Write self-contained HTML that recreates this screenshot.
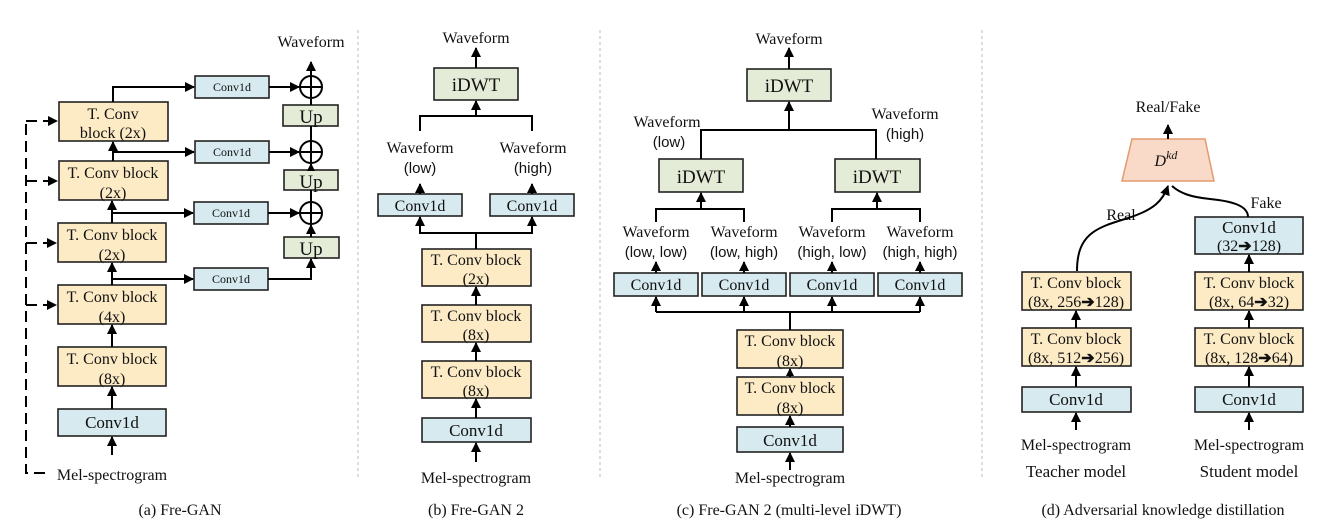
<!DOCTYPE html>
<html><head><meta charset="utf-8"><style>
html,body{margin:0;padding:0;background:#fff;}
svg{display:block;}
text{font-family:"Liberation Serif",serif;fill:#111;}
.s{font-family:"Liberation Sans",sans-serif;}
.y{fill:#fdebc6;stroke:#222;stroke-width:1.6;}
.b{fill:#d6eaf0;stroke:#222;stroke-width:1.6;}
.g{fill:#e4ebd6;stroke:#222;stroke-width:1.6;}
.l{stroke:#000;stroke-width:2;fill:none;}
.d{stroke:#000;stroke-width:2;fill:none;stroke-dasharray:11,6;}
.sep{stroke:#bbb;stroke-width:1;stroke-dasharray:3,3;}
</style></head><body>
<svg width="1327" height="532" viewBox="0 0 1327 532" xmlns="http://www.w3.org/2000/svg">
<defs><marker id="a" markerWidth="8" markerHeight="8" refX="7" refY="4" orient="auto" markerUnits="userSpaceOnUse" viewBox="0 0 8 8"><path d="M0,0 L8,4 L0,8 z" fill="#000"/></marker>
<marker id="A" markerWidth="10" markerHeight="10" refX="9" refY="5" orient="auto" markerUnits="userSpaceOnUse" viewBox="0 0 10 10"><path d="M0,0 L10,5 L0,10 z" fill="#000"/></marker></defs>

<line class="sep" x1="358" y1="30" x2="358" y2="480"/>
<line class="sep" x1="600" y1="30" x2="600" y2="480"/>
<line class="sep" x1="982" y1="30" x2="982" y2="480"/>

<!-- Panel a -->
<g font-size="16">
<text x="311" y="47" text-anchor="middle">Waveform</text>
<rect class="y" x="59" y="102" width="109" height="39"/><text x="113" y="119" text-anchor="middle">T. Conv</text><text x="113" y="138" text-anchor="middle">block (2x)</text>
<rect class="y" x="59" y="161" width="109" height="39"/><text x="113" y="178" text-anchor="middle">T. Conv block</text><text x="113" y="198" text-anchor="middle">(2x)</text>
<rect class="y" x="58" y="223" width="108" height="39"/><text x="112" y="240" text-anchor="middle">T. Conv block</text><text x="112" y="260" text-anchor="middle">(2x)</text>
<rect class="y" x="58" y="285" width="108" height="39"/><text x="112" y="302" text-anchor="middle">T. Conv block</text><text x="112" y="322" text-anchor="middle">(4x)</text>
<rect class="y" x="58" y="347" width="108" height="39"/><text x="112" y="364" text-anchor="middle">T. Conv block</text><text x="112" y="384" text-anchor="middle">(8x)</text>
<rect class="b" x="58" y="409" width="108" height="27"/><text x="112" y="428" text-anchor="middle" font-size="17">Conv1d</text>
<text x="112" y="480" text-anchor="middle">Mel-spectrogram</text>
</g>
<g font-size="12">
<rect class="b" x="195" y="76" width="74" height="22"/><text x="232" y="91" text-anchor="middle">Conv1d</text>
<rect class="b" x="195" y="141" width="74" height="22"/><text x="232" y="156" text-anchor="middle">Conv1d</text>
<rect class="b" x="194" y="202" width="74" height="22"/><text x="231" y="217" text-anchor="middle">Conv1d</text>
<rect class="b" x="194" y="268" width="74" height="22"/><text x="231" y="283" text-anchor="middle">Conv1d</text>
</g>
<g font-size="19">
<rect class="g" x="283" y="105" width="55" height="21"/><text x="311" y="123" text-anchor="middle">Up</text>
<rect class="g" x="284" y="170" width="54" height="20"/><text x="311" y="188" text-anchor="middle">Up</text>
<rect class="g" x="284" y="237" width="55" height="21"/><text x="311" y="255" text-anchor="middle">Up</text>
</g>
<g class="l">
<circle cx="311" cy="87" r="11"/><line x1="300" y1="87" x2="322" y2="87"/><line x1="311" y1="76" x2="311" y2="98"/>
<circle cx="311" cy="152" r="11"/><line x1="300" y1="152" x2="322" y2="152"/><line x1="311" y1="141" x2="311" y2="163"/>
<circle cx="311" cy="213" r="11"/><line x1="300" y1="213" x2="322" y2="213"/><line x1="311" y1="202" x2="311" y2="224"/>
</g>
<g class="l">
<line x1="311" y1="76" x2="311" y2="62" marker-end="url(#A)"/>
<polyline points="113,102 113,87 194,87" marker-end="url(#A)"/>
<line x1="113" y1="152" x2="194" y2="152" marker-end="url(#A)"/>
<line x1="112" y1="213" x2="193" y2="213" marker-end="url(#A)"/>
<line x1="112" y1="279" x2="193" y2="279" marker-end="url(#A)"/>
<line x1="269" y1="87" x2="299" y2="87" marker-end="url(#A)"/>
<line x1="269" y1="152" x2="299" y2="152" marker-end="url(#A)"/>
<line x1="268" y1="213" x2="299" y2="213" marker-end="url(#A)"/>
<polyline points="268,279 311,279 311,259" marker-end="url(#A)"/>
<line x1="311" y1="105" x2="311" y2="99" />
<line x1="311" y1="170" x2="311" y2="164" marker-end="url(#a)"/>
<line x1="311" y1="237" x2="311" y2="225" marker-end="url(#A)"/>
<line x1="311" y1="126" x2="311" y2="141"/>
<line x1="311" y1="190" x2="311" y2="202"/>
<line x1="113" y1="161" x2="113" y2="142" marker-end="url(#A)"/>
<line x1="112" y1="223" x2="112" y2="201" marker-end="url(#A)"/>
<line x1="112" y1="285" x2="112" y2="263" marker-end="url(#A)"/>
<line x1="112" y1="347" x2="112" y2="325" marker-end="url(#A)"/>
<line x1="112" y1="409" x2="112" y2="387" marker-end="url(#A)"/>
<line x1="112" y1="455" x2="112" y2="437" marker-end="url(#A)"/>
</g>
<g class="d">
<polyline points="45,473 26,473 26,121"/>
<line x1="26" y1="121" x2="57" y2="121" marker-end="url(#A)"/>
<line x1="26" y1="181" x2="57" y2="181" marker-end="url(#A)"/>
<line x1="26" y1="243" x2="56" y2="243" marker-end="url(#A)"/>
<line x1="26" y1="305" x2="56" y2="305" marker-end="url(#A)"/>
</g>

<!-- Panel b -->
<g font-size="16">
<text x="476" y="43" text-anchor="middle">Waveform</text>
<rect class="g" x="434" y="68" width="84" height="32"/><text x="476" y="91" text-anchor="middle" font-size="19">iDWT</text>
<text x="420" y="153" text-anchor="middle">Waveform</text><text x="420" y="173" text-anchor="middle" class="s" font-size="15">(low)</text>
<text x="533" y="153" text-anchor="middle">Waveform</text><text x="533" y="173" text-anchor="middle" class="s" font-size="15">(high)</text>
<rect class="b" x="378" y="194" width="84" height="22"/><text x="420" y="211" text-anchor="middle">Conv1d</text>
<rect class="b" x="490" y="194" width="84" height="22"/><text x="532" y="211" text-anchor="middle">Conv1d</text>
<rect class="y" x="422" y="249" width="109" height="37"/><text x="476" y="265" text-anchor="middle">T. Conv block</text><text x="476" y="284" text-anchor="middle">(2x)</text>
<rect class="y" x="422" y="305" width="109" height="37"/><text x="476" y="321" text-anchor="middle">T. Conv block</text><text x="476" y="340" text-anchor="middle">(8x)</text>
<rect class="y" x="422" y="361" width="109" height="37"/><text x="476" y="377" text-anchor="middle">T. Conv block</text><text x="476" y="396" text-anchor="middle">(8x)</text>
<rect class="b" x="422" y="418" width="109" height="24"/><text x="476" y="436" text-anchor="middle" font-size="17">Conv1d</text>
<text x="476" y="483" text-anchor="middle">Mel-spectrogram</text>
</g>
<g class="l">
<line x1="476" y1="68" x2="476" y2="48" marker-end="url(#A)"/>
<polyline points="420,131 420,116 532,116 532,131"/><line x1="476" y1="116" x2="476" y2="101" marker-end="url(#A)"/>
<line x1="420" y1="194" x2="420" y2="184" marker-end="url(#A)"/>
<line x1="532" y1="194" x2="532" y2="184" marker-end="url(#A)"/>
<polyline points="420,217 420,233 532,233 532,217"/>
<line x1="420" y1="233" x2="420" y2="217" marker-end="url(#A)"/>
<line x1="532" y1="233" x2="532" y2="217" marker-end="url(#A)"/>
<line x1="476" y1="249" x2="476" y2="233"/>
<line x1="476" y1="305" x2="476" y2="287" marker-end="url(#A)"/>
<line x1="476" y1="361" x2="476" y2="343" marker-end="url(#A)"/>
<line x1="476" y1="418" x2="476" y2="399" marker-end="url(#A)"/>
<line x1="476" y1="462" x2="476" y2="443" marker-end="url(#A)"/>
</g>

<!-- Panel c -->
<g font-size="16">
<text x="789" y="44" text-anchor="middle">Waveform</text>
<rect class="g" x="747" y="69" width="84" height="32"/><text x="789" y="92" text-anchor="middle" font-size="19">iDWT</text>
<text x="667" y="127" text-anchor="middle">Waveform</text><text x="669" y="147" text-anchor="middle" class="s" font-size="15">(low)</text>
<text x="905" y="119" text-anchor="middle">Waveform</text><text x="905" y="139" text-anchor="middle" class="s" font-size="15">(high)</text>
<rect class="g" x="659" y="159" width="84" height="33"/><text x="701" y="183" text-anchor="middle" font-size="19">iDWT</text>
<rect class="g" x="835" y="159" width="85" height="33"/><text x="877" y="183" text-anchor="middle" font-size="19">iDWT</text>
<text x="656" y="237" text-anchor="middle">Waveform</text><text x="656" y="257" text-anchor="middle" class="s" font-size="15">(low, low)</text>
<text x="744" y="237" text-anchor="middle">Waveform</text><text x="744" y="257" text-anchor="middle" class="s" font-size="15">(low, high)</text>
<text x="832" y="237" text-anchor="middle">Waveform</text><text x="832" y="257" text-anchor="middle" class="s" font-size="15">(high, low)</text>
<text x="920" y="237" text-anchor="middle">Waveform</text><text x="920" y="257" text-anchor="middle" class="s" font-size="15">(high, high)</text>
<rect class="b" x="614" y="273" width="84" height="23"/><text x="656" y="290" text-anchor="middle">Conv1d</text>
<rect class="b" x="702" y="273" width="84" height="23"/><text x="744" y="290" text-anchor="middle">Conv1d</text>
<rect class="b" x="790" y="273" width="84" height="23"/><text x="832" y="290" text-anchor="middle">Conv1d</text>
<rect class="b" x="878" y="273" width="84" height="23"/><text x="920" y="290" text-anchor="middle">Conv1d</text>
<rect class="y" x="737" y="330" width="106" height="38"/><text x="790" y="346" text-anchor="middle">T. Conv block</text><text x="790" y="366" text-anchor="middle">(8x)</text>
<rect class="y" x="737" y="377" width="106" height="38"/><text x="790" y="393" text-anchor="middle">T. Conv block</text><text x="790" y="413" text-anchor="middle">(8x)</text>
<rect class="b" x="737" y="427" width="106" height="25"/><text x="790" y="446" text-anchor="middle" font-size="17">Conv1d</text>
<text x="790" y="483" text-anchor="middle">Mel-spectrogram</text>
</g>
<g class="l">
<line x1="789" y1="69" x2="789" y2="48" marker-end="url(#A)"/>
<polyline points="701,159 701,130 876,130 876,159"/><line x1="789" y1="130" x2="789" y2="102" marker-end="url(#A)"/>
<polyline points="656,222 656,209 744,209 744,222"/><line x1="701" y1="209" x2="701" y2="193" marker-end="url(#A)"/>
<polyline points="832,222 832,209 920,209 920,222"/><line x1="877" y1="209" x2="877" y2="193" marker-end="url(#A)"/>
<line x1="656" y1="273" x2="656" y2="262" marker-end="url(#A)"/>
<line x1="744" y1="273" x2="744" y2="262" marker-end="url(#A)"/>
<line x1="832" y1="273" x2="832" y2="262" marker-end="url(#A)"/>
<line x1="920" y1="273" x2="920" y2="262" marker-end="url(#A)"/>
<line x1="656" y1="312" x2="920" y2="312"/>
<line x1="656" y1="312" x2="656" y2="297" marker-end="url(#A)"/>
<line x1="744" y1="312" x2="744" y2="297" marker-end="url(#A)"/>
<line x1="832" y1="312" x2="832" y2="297" marker-end="url(#A)"/>
<line x1="920" y1="312" x2="920" y2="297" marker-end="url(#A)"/>
<line x1="790" y1="330" x2="790" y2="312"/>
<line x1="790" y1="377" x2="790" y2="369" marker-end="url(#a)"/>
<line x1="790" y1="427" x2="790" y2="416" marker-end="url(#A)"/>
<line x1="790" y1="470" x2="790" y2="453" marker-end="url(#A)"/>
</g>

<!-- Panel d -->
<g font-size="16">
<text x="1168" y="112" text-anchor="middle">Real/Fake</text>
<polygon points="1132,139 1205,139 1214,181 1122,181" fill="#f9d9c8" stroke="#e49a6c" stroke-width="1.5"/>
<text x="1166" y="166" text-anchor="middle" font-style="italic">D<tspan font-size="12" dy="-7">kd</tspan></text>
<text x="1121" y="220" text-anchor="middle">Real</text>
<text x="1266" y="208" text-anchor="middle">Fake</text>
<rect class="y" x="1022" y="272" width="109" height="38"/><text x="1076" y="288" text-anchor="middle">T. Conv block</text><text x="1076" y="307" text-anchor="middle">(8x, 256<tspan class="s" font-weight="bold">➔</tspan>128)</text>
<rect class="y" x="1022" y="328" width="109" height="38"/><text x="1076" y="344" text-anchor="middle">T. Conv block</text><text x="1076" y="363" text-anchor="middle">(8x, 512<tspan class="s" font-weight="bold">➔</tspan>256)</text>
<rect class="b" x="1022" y="387" width="109" height="25"/><text x="1076" y="405" text-anchor="middle" font-size="17">Conv1d</text>
<text x="1076" y="450" text-anchor="middle">Mel-spectrogram</text>
<text x="1076" y="477" text-anchor="middle" font-size="17">Teacher model</text>
<rect class="b" x="1195" y="217" width="108" height="37"/><text x="1249" y="233" text-anchor="middle" font-size="17">Conv1d</text><text x="1249" y="251" text-anchor="middle">(32<tspan class="s" font-weight="bold">➔</tspan>128)</text>
<rect class="y" x="1195" y="272" width="108" height="38"/><text x="1249" y="288" text-anchor="middle">T. Conv block</text><text x="1249" y="307" text-anchor="middle">(8x, 64<tspan class="s" font-weight="bold">➔</tspan>32)</text>
<rect class="y" x="1195" y="328" width="108" height="38"/><text x="1249" y="344" text-anchor="middle">T. Conv block</text><text x="1249" y="363" text-anchor="middle">(8x, 128<tspan class="s" font-weight="bold">➔</tspan>64)</text>
<rect class="b" x="1195" y="387" width="108" height="25"/><text x="1249" y="405" text-anchor="middle" font-size="17">Conv1d</text>
<text x="1249" y="450" text-anchor="middle">Mel-spectrogram</text>
<text x="1249" y="477" text-anchor="middle" font-size="17">Student model</text>
</g>
<g class="l">
<line x1="1168" y1="139" x2="1168" y2="125" marker-end="url(#A)"/>
<path d="M1077,271 C1077,235 1095,228 1125,219 C1155,210 1163,200 1168,186" marker-end="url(#A)"/>
<path d="M1248,217 C1248,205 1230,201 1210,199 C1190,197 1180,193 1172,186"/>
<line x1="1076" y1="328" x2="1076" y2="311" marker-end="url(#A)"/>
<line x1="1076" y1="387" x2="1076" y2="367" marker-end="url(#A)"/>
<line x1="1076" y1="430" x2="1076" y2="413" marker-end="url(#A)"/>
<line x1="1249" y1="272" x2="1249" y2="255" marker-end="url(#A)"/>
<line x1="1249" y1="328" x2="1249" y2="311" marker-end="url(#A)"/>
<line x1="1249" y1="387" x2="1249" y2="367" marker-end="url(#A)"/>
<line x1="1249" y1="430" x2="1249" y2="413" marker-end="url(#A)"/>
</g>

<!-- captions -->
<g font-size="16">
<text x="180" y="515" text-anchor="middle">(a) Fre-GAN</text>
<text x="476" y="515" text-anchor="middle">(b) Fre-GAN 2</text>
<text x="789" y="515" text-anchor="middle">(c) Fre-GAN 2 (multi-level iDWT)</text>
<text x="1163" y="515" text-anchor="middle">(d) Adversarial knowledge distillation</text>
</g>
</svg>
</body></html>
